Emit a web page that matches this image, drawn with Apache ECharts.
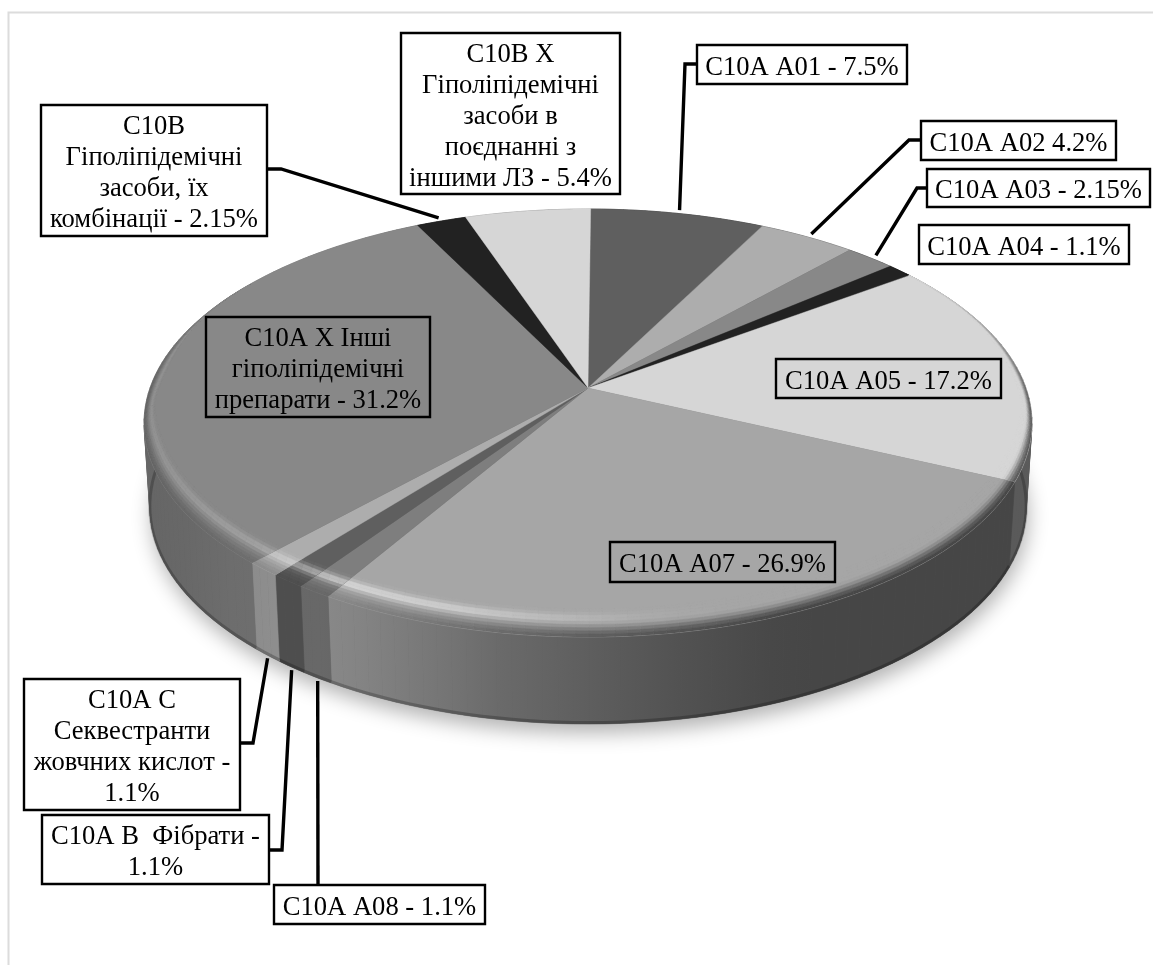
<!DOCTYPE html>
<html>
<head>
<meta charset="utf-8">
<style>html,body{margin:0;padding:0;background:#fff}#c{width:1153px;height:965px}</style>
<script src="https://cdn.jsdelivr.net/npm/echarts@6/dist/echarts.min.js"></script>
</head>
<body>
<div id="c"></div>
<script>
// ---- data ----
const sliceNames = ['C10A A01','C10A A02','C10A A03','C10A A04','C10A A05','C10A A07','C10A A08','C10A B','C10A C','C10A X','C10B','C10B X'];
const sliceValues = [7.5,4.2,2.15,1.1,17.2,26.9,1.1,1.1,1.1,31.2,2.15,5.4];
const sliceGrays = [95,173,136,34,214,166,126,95,173,136,34,214];
const labelTexts = [
  'C10A A01 - 7.5%',
  'C10A A02 4.2%',
  'C10A A03 - 2.15%',
  'C10A A04 - 1.1%',
  'C10A A05 - 17.2%',
  'C10A A07 - 26.9%',
  'C10A A08 - 1.1%',
  'C10A B  Фібрати -\n1.1%',
  'C10A C\nСеквестранти\nжовчних кислот -\n1.1%',
  'C10A X Інші\nгіполіпідемічні\nпрепарати - 31.2%',
  'C10B\nГіполіпідемічні\nзасоби, їх\nкомбінації - 2.15%',
  'C10B X\nГіполіпідемічні\nзасоби в\nпоєднанні з\nіншими ЛЗ - 5.4%'
];
// ---- layout (separate from data) ----
const labelBoxes = [
  [697,45,210,39],[921,121,195,39],[927,169,223,38],[919,225,210,39],[776,359,225,39],[610,542,225,40],
  [274,885,211,39],[42,815,227,69],[24,679,216,131],[206,317,224,100],[41,105,226,131],[401,33,219,161]
];
const boxFilled = [true,true,true,true,false,false,true,true,true,false,true,true];
const leaderElbows = [
  [[697,64],[685,64]],[[921,140],[909,140]],[[927,188],[917,188]],null,null,null,
  [[318,885]],[[269,850],[282,850]],[[240,743],[253,743]],null,[[267,169],[281,169]],null
];
const leaderOnBase = [false,false,false,false,false,false,true,true,true,false,false,false];

const CX=588, CY=388, RX=438, RY=208.3, PERSP=0.1636, START=0.4*Math.PI/180;
const total = sliceValues.reduce((a,b)=>a+b,0);
const starts=[]; { let s=0; sliceValues.forEach(v=>{starts.push(s); s+=v;}); }
const toAngle = v => v/total*Math.PI*2;
function pt(t,r){
  const w=1+PERSP*r*Math.cos(t);
  return [CX+RX*r*Math.sin(t)/w, CY-RY*r*Math.cos(t)/w];
}
function basePt(t){
  const p=pt(t,1);
  const d=84-3*Math.cos(t);
  return [CX+(p[0]-CX)*0.987, p[1]+d];
}
function arcAngles(a,b,step){
  const n=Math.max(1,Math.ceil((b-a)/step)), out=[];
  for(let i=0;i<=n;i++) out.push(a+(b-a)*i/n);
  return out;
}
function interp(stops,x){
  if(x<=stops[0][0]) return stops[0][1];
  for(let i=1;i<stops.length;i++){
    if(x<=stops[i][0]){
      const q=(x-stops[i-1][0])/(stops[i][0]-stops[i-1][0]);
      return stops[i-1][1]+(stops[i][1]-stops[i-1][1])*q;
    }
  }
  return stops[stops.length-1][1];
}
const lightStops=[[145,0.74],[230,0.80],[300,0.83],[340,0.82],[500,0.64],[700,0.48],[790,0.42],[1035,0.42]];
const glintStops=[[145,0.10],[250,0.22],[330,0.55],[450,0.45],[560,0.22],[650,0.06],[720,0]];
const gray=g=>{const v=Math.max(0,Math.min(255,Math.round(g)));return 'rgb('+v+','+v+','+v+')';};
const smooth=(a,b,x)=>{const q=Math.max(0,Math.min(1,(x-a)/(b-a)));return q*q*(3-2*q);};
function sideGradient(face){
  const stops=[];
  for(let x=140;x<=1040;x+=45){
    stops.push({offset:(x-140)/900,color:gray(face*interp(lightStops,x))});
  }
  return new echarts.graphic.LinearGradient(140,0,1040,0,stops,true);
}
const RIM_H=21, RIM_BANDS=9;
function rimColor(face,x,s){
  const side=face*interp(lightStops,x);
  const glint=interp(glintStops,x)*Math.exp(-Math.pow((s-0.34)/0.17,2));
  const lit=face+(255-face)*glint;
  return lit+(side-lit)*smooth(0.42,1,s);
}
function rimPt(t,s,deg){
  const gx=smooth(50,100,deg)*(1-smooth(268,300,deg));
  const gy=smooth(84,108,deg)*(1-smooth(252,276,deg));
  const p=pt(t,1-0.024*gx*(1-s));
  return [p[0],p[1]-RIM_H*gy*(1-s)];
}

function renderShadow(){
  const pts=arcAngles(0,Math.PI*2,0.03).map(basePt);
  return {type:'polygon',shape:{points:pts},style:{fill:'#555',shadowColor:'rgba(0,0,0,0.30)',shadowBlur:20,shadowOffsetY:9,shadowOffsetX:2}};
}
function renderSide(params,api){
  const i=params.dataIndex, a=START+toAngle(starts[i]), b=a+toAngle(api.value(0));
  const angs=arcAngles(a,b,0.03);
  const bottom=angs.map(basePt);
  const fill=sideGradient(sliceGrays[i]);
  const children=[];
  for(let j=0;j<angs.length-1;j++){
    children.push({type:'polygon',shape:{points:[pt(angs[j],1),pt(angs[j+1],1),basePt(angs[j+1]),basePt(angs[j])]},style:{fill:fill,stroke:fill,lineWidth:0.6}});
  }
  children.push({type:'polyline',shape:{points:bottom.map(p=>[p[0],p[1]-1.5])},style:{fill:'none',stroke:'rgba(0,0,0,0.22)',lineWidth:3}});
  return {type:'group',children};
}
function renderTop(params,api){
  const i=params.dataIndex, a=START+toAngle(starts[i]), b=a+toAngle(api.value(0));
  const face=sliceGrays[i];
  const angs=arcAngles(a,b,0.015);
  const wedge=[[CX,CY]].concat(angs.map(t=>pt(t,1)));
  const children=[{type:'polygon',shape:{points:wedge},style:{fill:gray(face),stroke:gray(face),lineWidth:0.4}}];
  const rim=[];
  const seg=arcAngles(a-0.16,b+0.16,0.025);
  for(let j=0;j<seg.length-1;j++){
    const t0=seg[j],t1=seg[j+1],tm=(t0+t1)/2;
    const d0=t0*180/Math.PI,d1=t1*180/Math.PI,deg=tm*180/Math.PI;
    const g=smooth(50,100,deg)*(1-smooth(268,305,deg));
    if(g<=0.01) continue;
    for(let k=0;k<RIM_BANDS;k++){
      const s0=k/RIM_BANDS, s1=(k+1)/RIM_BANDS;
      const x=pt(tm,1)[0];
      const col=rimColor(face,x,(s0+s1)/2);
      const c=gray(face+(col-face)*g);
      rim.push({type:'polygon',shape:{points:[rimPt(t0,s0,d0),rimPt(t1,s0,d1),rimPt(t1,s1,d1),rimPt(t0,s1,d0)]},style:{fill:c,stroke:c,lineWidth:0.5}});
    }
  }
  if(rim.length) children.push({type:'group',children:rim,clipPath:{type:'polygon',shape:{points:wedge}}});
  return {type:'group',children};
}
function renderLabel(params,api){
  const i=params.dataIndex, a=START+toAngle(starts[i]), mid=a+toAngle(api.value(0))/2;
  const [bx,by,bw,bh]=labelBoxes[i];
  const children=[];
  if(leaderElbows[i]){
    const end=leaderOnBase[i]?(p=>[p[0],p[1]+3])(basePt(mid)):pt(mid,1.022);
    children.push({type:'polyline',shape:{points:leaderElbows[i].concat([end])},style:{fill:'none',stroke:'#000',lineWidth:3.4,lineJoin:'miter'}});
  }
  children.push({type:'rect',shape:{x:bx,y:by,width:bw,height:bh},style:{fill:boxFilled[i]?'#fff':'none',stroke:'#000',lineWidth:2.4}});
  children.push({type:'text',x:bx+bw/2,y:by+bh/2+3.5,style:{text:labelTexts[i],font:'26.6px "Liberation Serif"',fill:'#000',align:'center',verticalAlign:'middle',lineHeight:31}});
  return {type:'group',children};
}

const chart=echarts.init(document.getElementById('c'),null,{renderer:'canvas'});
chart.setOption({
  animation:false,
  backgroundColor:'#fff',
  graphic:[{type:'rect',z:0,shape:{x:8.5,y:12.5,width:1400,height:1200},style:{fill:'none',stroke:'#dcdcdc',lineWidth:2},silent:true}],
  series:[
    {type:'custom',name:'shadow',coordinateSystem:'none',z:1,data:[total],renderItem:renderShadow,silent:true},
    {type:'custom',name:'side',coordinateSystem:'none',z:2,data:sliceValues,renderItem:renderSide,silent:true},
    {type:'custom',name:'top',coordinateSystem:'none',z:3,data:sliceValues,renderItem:renderTop,silent:true},
    {type:'custom',name:'labels',coordinateSystem:'none',z:4,data:sliceValues,renderItem:renderLabel,silent:true}
  ]
});
</script>
</body>
</html>
